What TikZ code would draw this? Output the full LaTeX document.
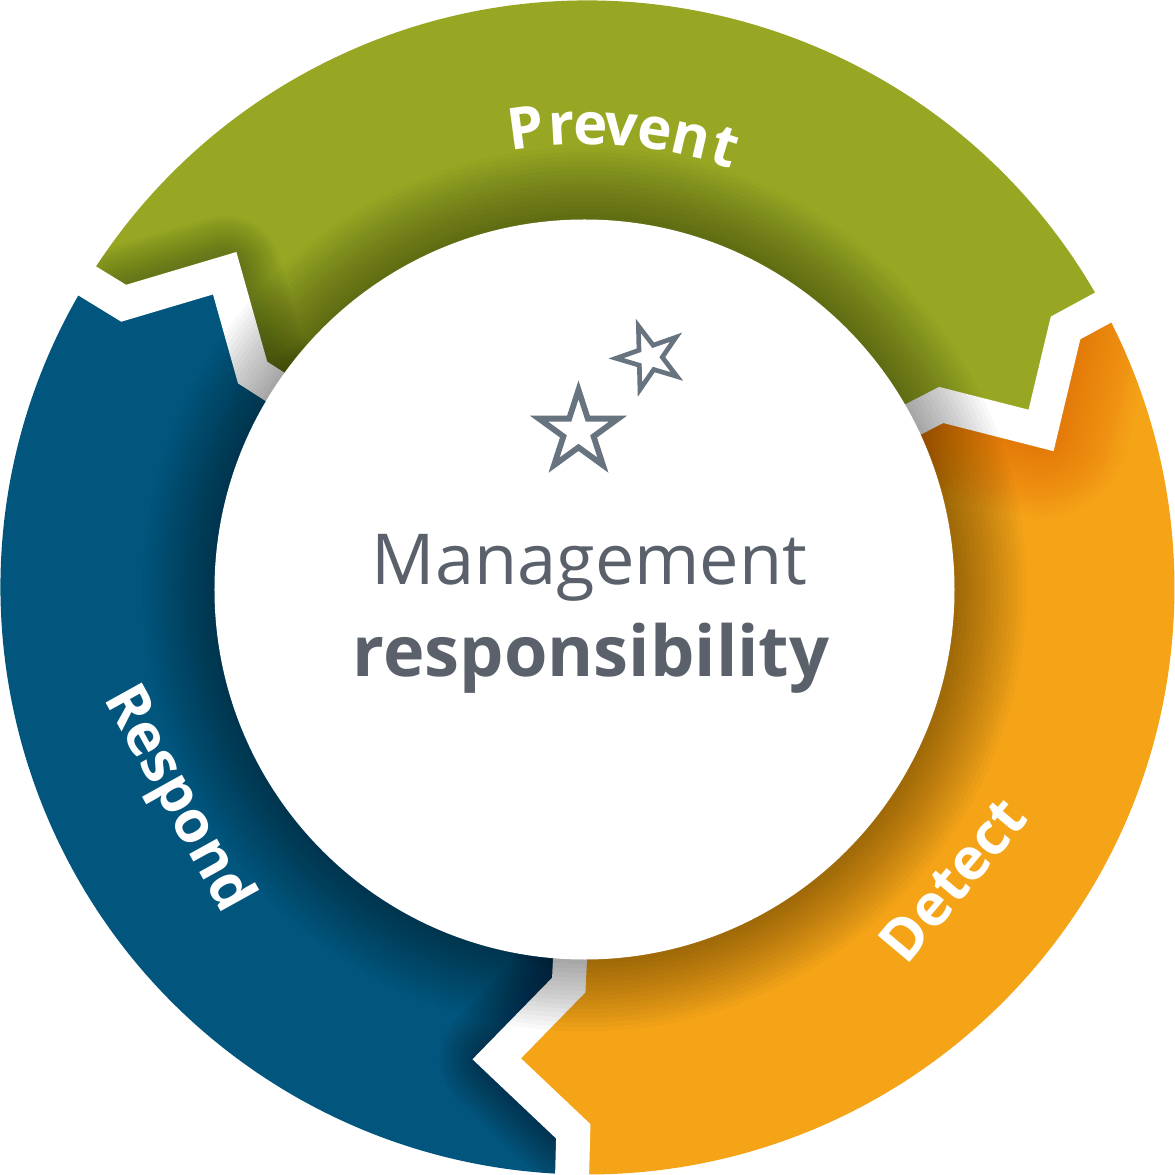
\documentclass[tikz,border=0pt]{standalone}
\usepackage{fontspec}
\setmainfont{Open Sans}
\definecolor{prevgreen}{RGB}{151,167,35}
\definecolor{detorange}{RGB}{245,164,24}
\definecolor{respblue}{RGB}{2,86,125}
\definecolor{greenshade}{RGB}{50,70,25}
\definecolor{orangeshade}{RGB}{220,90,10}
\definecolor{blueshade}{RGB}{5,25,40}
\definecolor{textgray}{RGB}{90,97,107}
\definecolor{stargray}{RGB}{103,115,126}
\def\ringpart#1{(#1:5.87) -- (#1:5.44) -- ({#1-9.4}:4.80) -- ({#1-1.2}:3.98) -- ({#1-1.2}:3.30) arc[start angle={#1-1.2}, end angle={#1-121.2}, radius=3.30] -- ({#1-121.2}:3.98) -- ({#1-129.4}:4.80) -- ({#1-120}:5.44) -- ({#1-120}:5.87) arc[start angle={#1-120}, end angle={#1}, radius=5.87] -- cycle}
\def\gapline#1{(#1:6.2) -- (#1:5.44) -- ({#1-9.4}:4.80) -- ({#1-1.2}:3.98) -- ({#1-1.2}:3.30)}
\def\shadeline#1{(#1:5.44) -- ({#1-9.4}:4.80) -- ({#1-1.2}:3.98) -- ({#1-1.2}:3.30)}
\def\outlinestar(#1)(#2:#3){\fill[stargray, even odd rule, shift={(#1)}] plot[samples at={0,...,9}] ({#2+36*\x}:{ifthenelse(mod(\x,2)==0,#3,0.382*#3)}) -- cycle plot[samples at={0,...,9}] ({#2+36*\x}:{ifthenelse(mod(\x,2)==0,0.63*#3,0.241*#3)}) -- cycle;}
\tikzset{labeltext/.style={text=white, font=\bfseries\fontsize{16.5}{20}\selectfont, inner sep=0pt}}

\begin{document}
\begin{tikzpicture}
			%%%%% START %%%%%
			\useasboundingbox (-5.875, -5.875) rectangle (5.875, 5.875);
			
			\fill[prevgreen] \ringpart{148.5};
			\fill[detorange] \ringpart{28.5};
			\fill[respblue] \ringpart{268.5};
			
			\begin{scope}
				\clip \ringpart{148.5};
				\foreach \w in {0.40,0.45,...,1.20} \draw[line width=\w cm, color=greenshade, opacity=0.035, line join=round, line cap=round] \shadeline{148.5};
			\end{scope}
			\begin{scope}
				\clip \ringpart{28.5};
				\foreach \w in {0.40,0.48,...,1.80} \draw[line width=\w cm, color=orangeshade, opacity=0.035, line join=round, line cap=round] \shadeline{28.5};
			\end{scope}
			\begin{scope}
				\clip \ringpart{268.5};
				\foreach \w in {0.40,0.45,...,1.20} \draw[line width=\w cm, color=blueshade, opacity=0.035, line join=round, line cap=round] \shadeline{268.5};
			\end{scope}
			
			\draw[white, line width=3.4mm] \gapline{148.5};
			\draw[white, line width=3.4mm] \gapline{28.5};
			\draw[white, line width=3.4mm] \gapline{268.5};
			
			\foreach \i in {1,...,16} \fill[black, opacity=0.024] (-0.03, -0.02) circle ({3.70+0.045*\i});
			\fill[white] (-0.03, -0.02) circle (3.70);
			
			\outlinestar(-0.09, 1.56)(90:0.51)
			\outlinestar(0.62, 2.30)(109.4:0.41)
			
			\node[text=textgray, font=\fontsize{20}{24}\selectfont, anchor=base, inner sep=0pt] (mgmt) at (0.02, 0.03) {Management};
			\node[text=textgray, font=\bfseries\fontsize{20}{24}\selectfont, anchor=base, inner sep=0pt] (resp) at (0.035, -0.89) {responsibility};
			
			\foreach \ch/\ang [count=\i] in {P/97.7, r/93.2, e/89.6, v/85.8, e/81.6, n/77.0, t/72.6}
				\node[labeltext, anchor=base, rotate=\ang-90] (prevent\i) at (\ang:4.43) {\ch};
			\node[labeltext, rotate=-61] (respond) at (-4.11, -2.12) {Respond};
			\node[labeltext, rotate=50] (detect) at (3.65, -2.92) {Detect};
			
			%%%%% END %%%%%
\end{tikzpicture}
\end{document}
